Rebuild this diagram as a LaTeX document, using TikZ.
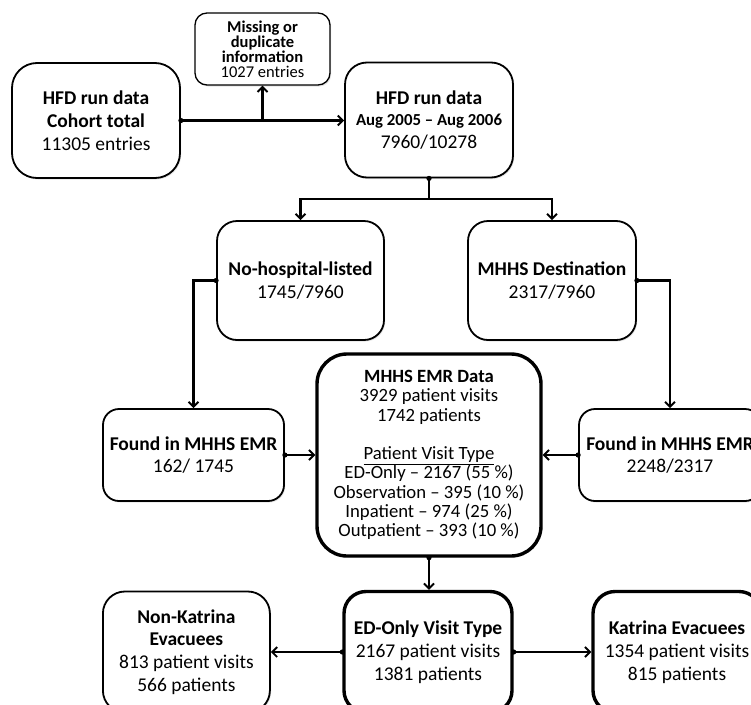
\documentclass[tikz,border=0pt]{standalone}
\usepackage{fontspec}
\setmainfont{Carlito}
\usetikzlibrary{arrows.meta,shadows}
\tikzset{
  box/.style={draw=black, fill=white, rounded corners=#1, align=center, inner sep=0pt, line width=1.8pt,
    drop shadow={opacity=0.22, shadow xshift=1.2pt, shadow yshift=-1.5pt}},
  box/.default=20pt,
  thickbox/.style={box=#1, line width=3.4pt},
  thickbox/.default=22pt,
  conn/.style={line width=2.1pt, -{Straight Barb[length=5pt,width=10pt,line width=1.9pt]}},
  plain/.style={line width=2.1pt},
  big/.style={font=\fontsize{19.5}{22.8}\selectfont},
  dot/.style={fill=black}
}
\begin{document}
\begin{tikzpicture}[x=1pt,y=-1pt]
\useasboundingbox (0,0) rectangle (751,704);
\clip (0,0) rectangle (751,704);
\fill[white] (0,0) rectangle (751,704);

% top row
\node[box=25pt, big, minimum width=168pt, minimum height=115pt] (A) at (96,120.5)
  {\bfseries HFD run data\\\bfseries Cohort total\\11305 entries};
\node[box=12pt, line width=1.3pt, minimum width=135pt, minimum height=72pt,
  font=\fontsize{16.5}{15}\selectfont] (M) at (262.5,49)
  {\bfseries Missing or\\\bfseries duplicate\\\bfseries information\\1027 entries};
\node[box=22pt, big, minimum width=168pt, minimum height=115pt] (B) at (429,120)
  {\bfseries HFD run data\\[-2pt]{\fontsize{16.8}{20}\selectfont\bfseries Aug 2005 – Aug 2006}\\7960/10278};

% second row
\node[box=20pt, big, minimum width=167pt, minimum height=119pt] (NH) at (300.5,280.5)
  {\bfseries No-hospital-listed\\1745/7960};
\node[box=20pt, big, minimum width=168pt, minimum height=119pt] (MD) at (552,280.5)
  {\bfseries MHHS Destination\\2317/7960};

% third row
\node[box=16pt, big, minimum width=181pt, minimum height=92pt] (FL) at (193.5,455)
  {\bfseries Found in MHHS EMR\\162/ 1745};
\node[box=16pt, big, minimum width=182pt, minimum height=92pt] (FR) at (670,455)
  {\bfseries Found in MHHS EMR\\2248/2317};
\node[thickbox=30pt, minimum width=224pt, minimum height=202pt,
  font=\fontsize{18.7}{19.3}\selectfont] (C) at (429,455)
  {\bfseries MHHS EMR Data\\3929 patient visits\\1742 patients\\[19.3pt]
   \underline{Patient Visit Type}\\ED-Only – 2167 (55 \%)\\Observation – 395 (10 \%)\\
   Inpatient – 974 (25 \%)\\Outpatient – 393 (10 \%)};

% bottom row
\node[box=22pt, big, minimum width=167pt, minimum height=121pt] (NK) at (186.4,652)
  {\bfseries Non-Katrina\\\bfseries Evacuees\\813 patient visits\\566 patients};
\node[thickbox=22pt, big, minimum width=168pt, minimum height=121pt] (ED) at (428,652)
  {\bfseries ED-Only Visit Type\\2167 patient visits\\1381 patients};
\node[thickbox=22pt, big, minimum width=168pt, minimum height=121pt] (K) at (677,652)
  {\bfseries Katrina Evacuees\\1354 patient visits\\815 patients};

% connectors
\draw[conn] (A.east) -- (A.east -| B.west);
\draw[conn] (A.east -| M.south) -- (M.south);
\coordinate (J) at (429,199);
\draw[plain] (B.south) -- (J);
\draw[conn] (J) -| (NH.north);
\draw[conn] (J) -| (MD.north);
\draw[conn] (NH.west) -| (FL.north);
\draw[conn] (MD.east) -| (FR.north);
\draw[conn] (FL.east) -- (FL.east -| C.west);
\draw[conn] (FR.west) -- (FR.west -| C.east);
\draw[conn] (C.south) -- (C.south |- ED.north);
\draw[conn] (ED.west) -- (ED.west -| NK.east);
\draw[conn] (ED.east) -- (ED.east -| K.west);

% dots
\foreach \p in {A.east, B.south, NH.west, MD.east, FL.east, FR.west, C.south, ED.west, ED.east}
  \fill[dot] (\p) circle (2.6pt);
\end{tikzpicture}
\end{document}
